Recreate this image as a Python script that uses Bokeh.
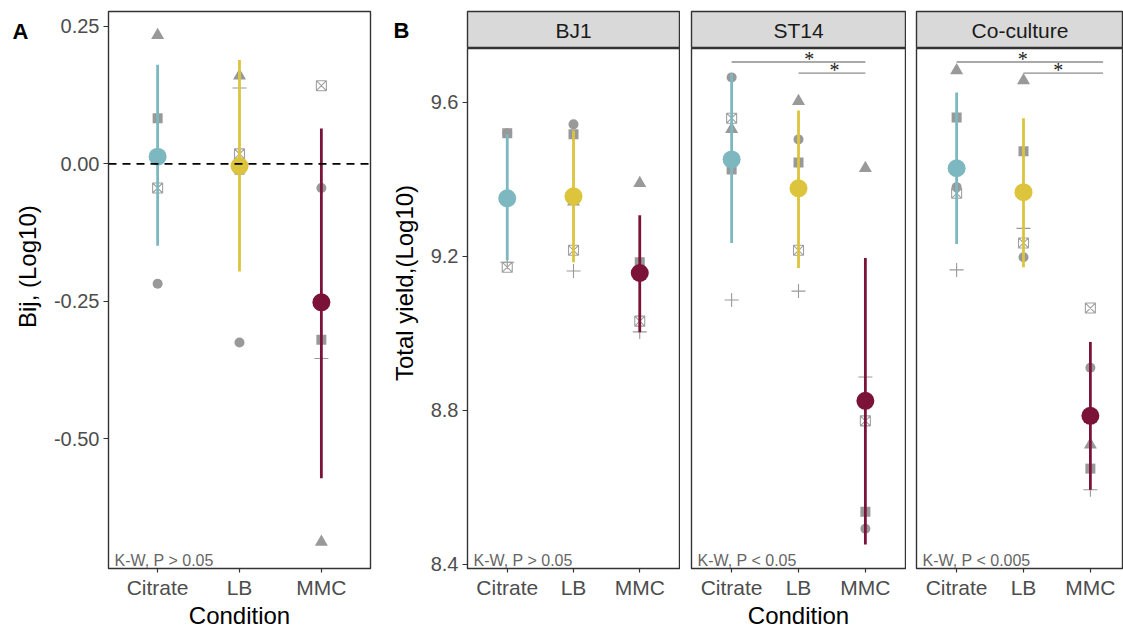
import math
from bokeh.plotting import figure
from bokeh.layouts import row, column
from bokeh.models import Label, Span, FixedTicker, Range1d, NumeralTickFormatter
from bokeh.embed import file_html
from bokeh.resources import INLINE

# ---------------- data ----------------
conditions = ["Citrate", "LB", "MMC"]
cond_x = [1, 2, 3]
cond_colors = ["#7DB8C0", "#DCC43C", "#7B1339"]
# replicate order: circle, triangle, square, plus, boxed-x
rep_markers = ["circle", "triangle", "square", "cross", "square_x"]

# Panel A : Bij (Log10)
bij_citrate = [-0.218, 0.234, 0.083, 0.010, -0.044]
bij_lb = [-0.325, 0.160, -0.011, 0.138, 0.018]
bij_mmc = [-0.044, -0.688, -0.320, -0.354, 0.142]
bij_mean = [0.013, -0.004, -0.252]
bij_low = [-0.149, -0.196, -0.572]
bij_high = [0.180, 0.189, 0.064]

# Panel B : Total yield (Log10)
bj1_citrate = [9.520, 9.351, 9.520, 9.185, 9.172]
bj1_lb = [9.543, 9.342, 9.517, 9.162, 9.216]
bj1_mmc = [9.174, 9.390, 9.185, 9.004, 9.032]
bj1_mean = [9.351, 9.356, 9.157]
bj1_low = [9.190, 9.185, 9.003]
bj1_high = [9.517, 9.527, 9.307]

st14_citrate = [9.665, 9.530, 9.426, 9.087, 9.559]
st14_lb = [9.504, 9.603, 9.444, 9.110, 9.216]
st14_mmc = [8.493, 9.429, 8.537, 8.887, 8.773]
st14_mean = [9.452, 9.377, 8.825]
st14_low = [9.235, 9.170, 8.452]
st14_high = [9.675, 9.579, 9.196]

co_citrate = [9.380, 9.683, 9.561, 9.165, 9.364]
co_lb = [9.198, 9.657, 9.473, 9.273, 9.235]
co_mmc = [8.911, 8.711, 8.649, 8.594, 9.066]
co_mean = [9.429, 9.367, 8.786]
co_low = [9.232, 9.172, 8.594]
co_high = [9.626, 9.559, 8.978]

facet_names = ["BJ1", "ST14", "Co-culture"]
kw_labels = ["K-W, P > 0.05", "K-W, P > 0.05", "K-W, P < 0.05", "K-W, P < 0.005"]

# significance brackets (x start, x end, y, star x)
sig_st14_x0 = [1, 2]
sig_st14_x1 = [3, 3]
sig_st14_y = [9.705, 9.676]
sig_st14_star_x = [2.16, 2.54]
sig_co_x0 = [1, 2]
sig_co_x1 = [3.19, 3.19]
sig_co_y = [9.705, 9.676]
sig_co_star_x = [1.99, 2.52]

A_yticks = [-0.5, -0.25, 0.0, 0.25]
B_yticks = [8.4, 8.8, 9.2, 9.6]

# ---------------- style ----------------
FONT = "Liberation Sans"
GREY = "#999999"
BORDER = "#333333"
TICKLAB = "#4D4D4D"
H = 632
TOP = 11
STRIP_H = 48
BOTTOM = 64


def style_axes(p, xlabel=None):
    p.outline_line_color = BORDER
    p.outline_line_width = 1.4
    p.grid.visible = False
    p.background_fill_color = "white"
    for ax in p.xaxis + p.yaxis:
        ax.axis_line_color = None
        ax.major_tick_line_color = BORDER
        ax.major_tick_line_width = 1.2
        ax.minor_tick_line_color = None
        ax.major_label_text_font = FONT
        ax.major_label_text_color = TICKLAB
        ax.axis_label_text_font = FONT
        ax.axis_label_text_font_size = "24px"
        ax.axis_label_text_font_style = "normal"
        ax.axis_label_text_color = "black"
    for ax in p.xaxis:
        ax.ticker = FixedTicker(ticks=cond_x)
        ax.major_label_overrides = {x: c for x, c in zip(cond_x, conditions)}
        ax.major_label_text_font_size = "21px"
        ax.major_tick_out = 4
        ax.major_tick_in = 0
        ax.major_label_standoff = 3
        ax.axis_label_standoff = 0
        if xlabel:
            ax.axis_label = xlabel
    for ax in p.yaxis:
        ax.major_label_text_font_size = "20px"
        ax.major_tick_out = 5
        ax.major_tick_in = 0
        ax.major_label_standoff = 4


def draw_group(p, groups, means, lows, highs):
    for j, mk in enumerate(rep_markers):
        xs = cond_x
        ys = [g[j] for g in groups]
        if mk == "circle":
            p.scatter(xs, ys, marker="circle", size=10, fill_color=GREY, line_color=None)
        elif mk == "triangle":
            p.scatter(xs, ys, marker="triangle", size=13, fill_color=GREY, line_color=None)
        elif mk == "square":
            p.scatter(xs, ys, marker="square", size=10, fill_color=GREY, line_color=None)
        elif mk == "cross":
            p.scatter(xs, ys, marker="cross", size=14, fill_color=None, line_color=GREY, line_width=1.1)
        else:
            p.scatter(xs, ys, marker="square_x", size=10, fill_color=None, line_color="#A0A0A0", line_width=1.1)
    p.segment(x0=cond_x, y0=lows, x1=cond_x, y1=highs, line_color=cond_colors, line_width=2.8)
    p.scatter(cond_x, means, marker="circle", size=18, fill_color=cond_colors, line_color=None)


def kw_label(p, text, x0, y0):
    p.add_layout(Label(x=x0, y=y0, x_offset=6, y_offset=8, text=text,
                       text_font=FONT, text_font_size="16px", text_color="#666666",
                       text_baseline="alphabetic", text_align="left"))


def sig(p, x0s, x1s, ys, sxs):
    p.segment(x0=x0s, y0=ys, x1=x1s, y1=ys, line_color="#8C8C8C", line_width=1.3)
    for sx, sy in zip(sxs, ys):
        p.add_layout(Label(x=sx, y=sy, y_offset=3, text="*", text_font="Liberation Serif",
                           text_font_size="20px", text_color="#222222",
                           text_align="center", text_baseline="alphabetic"))


def gutter(width, panel_label, label_xy, ylabel, ylabel_xy):
    g = figure(width=width, height=H, x_range=Range1d(0, width), y_range=Range1d(H, 0),
               min_border_left=0, min_border_right=0, min_border_top=0, min_border_bottom=0,
               x_axis_location=None, y_axis_location=None,
               toolbar_location=None, output_backend="svg")
    g.grid.visible = False
    g.outline_line_color = None
    g.background_fill_color = "white"
    g.border_fill_color = "white"
    g.add_layout(Label(x=label_xy[0], y=label_xy[1], text=panel_label, text_font=FONT,
                       text_font_size="22px", text_font_style="bold", text_color="black",
                       text_baseline="top", text_align="left"))
    g.add_layout(Label(x=ylabel_xy[0], y=ylabel_xy[1], text=ylabel, angle=math.pi / 2,
                       text_font=FONT, text_font_size="24px", text_color="black",
                       text_baseline="alphabetic", text_align="center"))
    return g


# ---------------- panel A ----------------
gA = gutter(50, "A", (12, 8), "Bij, (Log10)", (27, (TOP + H - BOTTOM) / 2))

A_y0, A_y1 = -0.736, 0.277
pA = figure(width=330, height=H, x_range=Range1d(0.4, 3.6), y_range=Range1d(A_y0, A_y1),
            min_border_left=56, min_border_right=10, min_border_top=TOP, min_border_bottom=BOTTOM,
            toolbar_location=None, output_backend="svg")
style_axes(pA, xlabel="Condition")
pA.yaxis.ticker = FixedTicker(ticks=A_yticks)
pA.yaxis.formatter = NumeralTickFormatter(format="0.00")
pA.add_layout(Span(location=0, dimension="width", line_color="black", line_width=1.8, line_dash="8 6"))
draw_group(pA, [bij_citrate, bij_lb, bij_mmc], bij_mean, bij_low, bij_high)
kw_label(pA, kw_labels[0], 0.4, A_y0)

# ---------------- panel B ----------------
gB = gutter(47, "B", (13, 7), "Total yield,(Log10)", (24, (STRIP_H + H - BOTTOM) / 2))

B_y0, B_y1 = 8.3896, 9.740
facet_data = [
    ([bj1_citrate, bj1_lb, bj1_mmc], bj1_mean, bj1_low, bj1_high),
    ([st14_citrate, st14_lb, st14_mmc], st14_mean, st14_low, st14_high),
    ([co_citrate, co_lb, co_mmc], co_mean, co_low, co_high),
]
widths = [253, 226, 217]
lefts = [38, 11, 10]
rights = [1, 1, 0]
x_ends = [3.6, 3.6, 0.4 + 207 / 66.875]

cols = []
for i, name in enumerate(facet_names):
    strip = figure(width=widths[i], height=STRIP_H, x_range=Range1d(0, 1), y_range=Range1d(0, 1),
                   min_border_left=lefts[i], min_border_right=rights[i], min_border_top=TOP,
                   min_border_bottom=0, x_axis_location=None, y_axis_location=None,
                   toolbar_location=None, output_backend="svg")
    strip.grid.visible = False
    strip.background_fill_color = "#D9D9D9"
    strip.outline_line_color = BORDER
    strip.outline_line_width = 1.4
    strip.add_layout(Label(x=0.5, y=0.5, text=name, text_font=FONT, text_font_size="21px",
                           text_color="#1A1A1A", text_align="center", text_baseline="middle"))

    p = figure(width=widths[i], height=H - STRIP_H, x_range=Range1d(0.4, x_ends[i]),
               y_range=Range1d(B_y0, B_y1),
               min_border_left=lefts[i], min_border_right=rights[i], min_border_top=0,
               min_border_bottom=BOTTOM, y_axis_location=("left" if i == 0 else None),
               toolbar_location=None, output_backend="svg")
    style_axes(p, xlabel=("Condition" if i == 1 else None))
    if i == 0:
        p.yaxis.ticker = FixedTicker(ticks=B_yticks)
        p.yaxis.formatter = NumeralTickFormatter(format="0.0")
    groups, means, lows, highs = facet_data[i]
    draw_group(p, groups, means, lows, highs)
    kw_label(p, kw_labels[i + 1], 0.4, B_y0)
    if i == 1:
        sig(p, sig_st14_x0, sig_st14_x1, sig_st14_y, sig_st14_star_x)
    if i == 2:
        sig(p, sig_co_x0, sig_co_x1, sig_co_y, sig_co_star_x)
    cols.append(column(strip, p, spacing=0))

layout = row(gA, pA, gB, *cols, spacing=0)

open("out.html", "w").write(file_html(layout, INLINE))
